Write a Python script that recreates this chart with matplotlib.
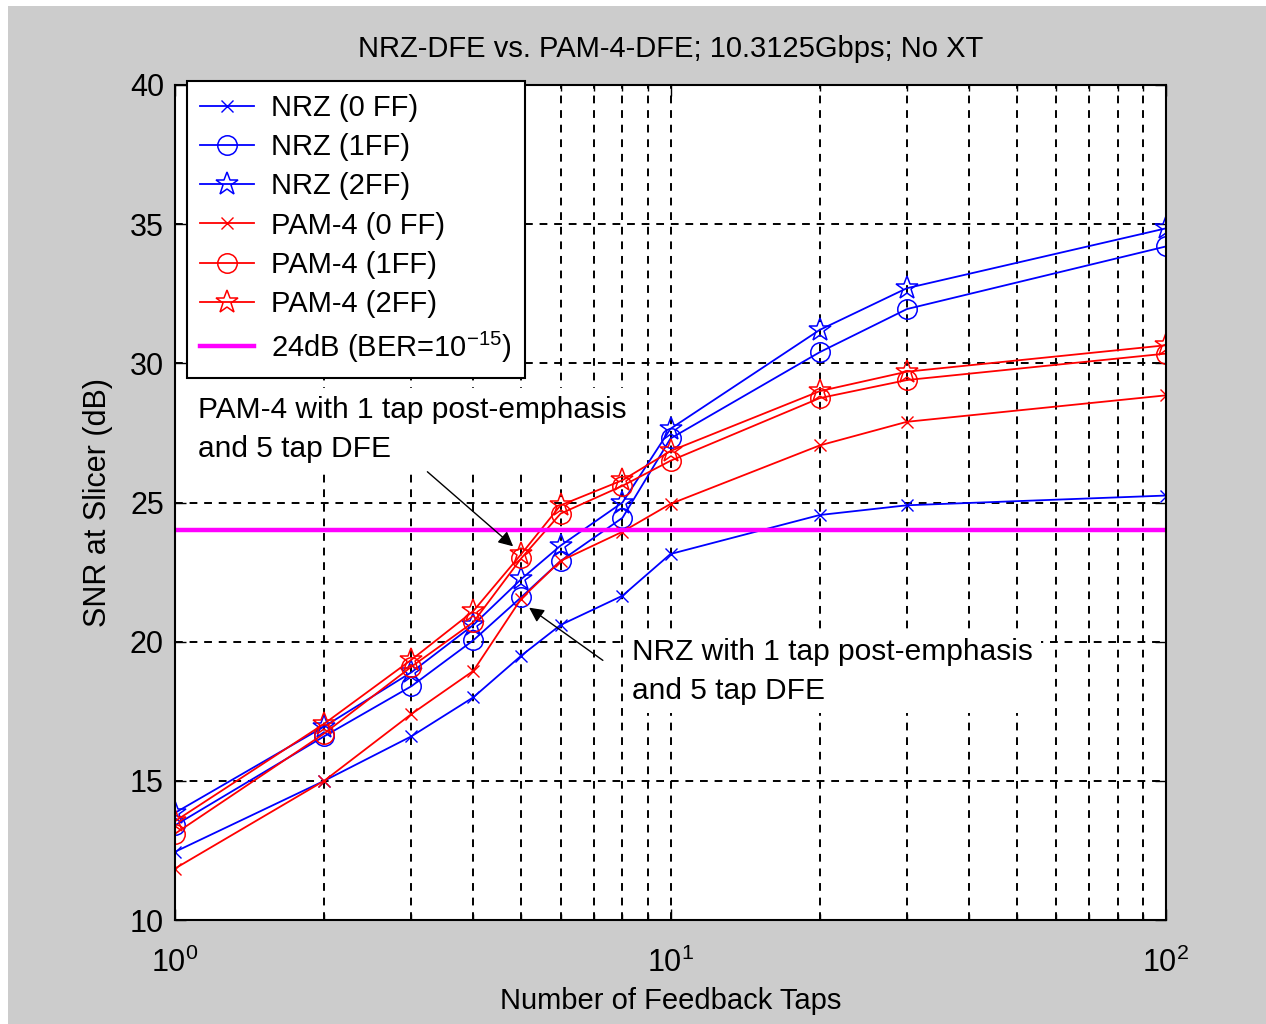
import matplotlib
matplotlib.use("Agg")
import matplotlib.pyplot as plt
from matplotlib.patches import Rectangle
from matplotlib.ticker import LogLocator, NullFormatter

taps = [1, 2, 3, 4, 5, 6, 8, 10, 20, 30, 100]
nrz_0ff = [12.45, 15.0, 16.6, 18.0, 19.5, 20.6, 21.65, 23.15, 24.55, 24.9, 25.25]
nrz_1ff = [13.4, 16.6, 18.4, 20.05, 21.6, 22.9, 24.45, 27.3, 30.4, 31.95, 34.2]
nrz_2ff = [13.85, 16.95, 18.9, 20.6, 22.25, 23.45, 25.0, 27.65, 31.2, 32.7, 34.85]
pam_0ff = [11.85, 15.0, 17.4, 18.95, 21.55, 22.9, 23.95, 24.95, 27.05, 27.9, 28.85]
pam_1ff = [13.1, 16.7, 19.1, 20.7, 23.0, 24.6, 25.6, 26.5, 28.75, 29.4, 30.35]
pam_2ff = [13.55, 17.05, 19.35, 21.1, 23.15, 24.9, 25.8, 26.85, 29.0, 29.7, 30.65]
threshold = 24
x_range = [1, 100]
y_range = [10, 40]
y_ticks = [10, 15, 20, 25, 30, 35, 40]

title = "NRZ-DFE vs. PAM-4-DFE; 10.3125Gbps; No XT"
xlabel = "Number of Feedback Taps"
ylabel = "SNR at Slicer (dB)"
labels = ["NRZ (0 FF)", "NRZ (1FF)", "NRZ (2FF)",
          "PAM-4 (0 FF)", "PAM-4 (1FF)", "PAM-4 (2FF)",
          r"24dB (BER=10$^{\mathregular{-15}}$)"]
note_pam = "PAM-4 with 1 tap post-emphasis\nand 5 tap DFE"
note_nrz = "NRZ with 1 tap post-emphasis\nand 5 tap DFE"

regular = ["Liberation Sans", "DejaVu Sans"]
plt.rcParams["font.family"] = regular
plt.rcParams["mathtext.fontset"] = "custom"
plt.rcParams["mathtext.rm"] = "Liberation Sans"
plt.rcParams["mathtext.default"] = "regular"

W, H = 1266, 1024
fig = plt.figure(figsize=(W / 100, H / 100), dpi=100, facecolor="white")
fig.patches.append(Rectangle((8 / W, 0), 1 - 8 / W, 1 - 6 / H, transform=fig.transFigure,
                             facecolor="#cccccc", edgecolor="none", zorder=-10))

L, R, T, B = 175, 1166, 85, 920
ax = fig.add_axes([L / W, 1 - B / H, (R - L) / W, (B - T) / H])
ax.set_facecolor("white")

lw = 1.3
ax.plot(taps, nrz_0ff, color="blue", marker="x", ms=9, mew=1.0, lw=lw, label=labels[0])
ax.plot(taps, nrz_1ff, color="blue", marker="o", ms=14, mfc="none", mew=1.1, lw=lw, label=labels[1])
ax.plot(taps, nrz_2ff, color="blue", marker="*", ms=17, mfc="none", mew=1.1, lw=lw, label=labels[2])
ax.plot(taps, pam_0ff, color="red", marker="x", ms=9, mew=1.0, lw=lw, label=labels[3])
ax.plot(taps, pam_1ff, color="red", marker="o", ms=14, mfc="none", mew=1.1, lw=lw, label=labels[4])
ax.plot(taps, pam_2ff, color="red", marker="*", ms=17, mfc="none", mew=1.1, lw=lw, label=labels[5])
ax.plot(x_range, [threshold, threshold], color="magenta", lw=3.2, label=labels[6])

ax.set_xscale("log")
ax.set_xlim(x_range)
ax.set_ylim(y_range)
ax.set_yticks(y_ticks)
ax.xaxis.set_major_locator(LogLocator(base=10, numticks=10))
ax.xaxis.set_minor_locator(LogLocator(base=10, subs=range(2, 10), numticks=20))
ax.xaxis.set_minor_formatter(NullFormatter())

ax.grid(True, which="major", axis="both", color="black", linestyle=(0, (4, 3.5)), lw=1.4)
ax.grid(True, which="minor", axis="x", color="black", linestyle=(0, (4, 3.5)), lw=1.4)
ax.set_axisbelow(True)

ax.tick_params(which="both", direction="in", top=True, right=True, color="black")
ax.tick_params(which="major", length=8, width=1.0, labelsize=22)
ax.tick_params(axis="y", which="major", pad=8)
ax.tick_params(axis="x", which="major", pad=20)
ax.tick_params(which="minor", length=4, width=1.0)
for s in ax.spines.values():
    s.set_linewidth(1.5)
    s.set_color("black")

ax.set_title(title, fontsize=21, pad=20)
ax.set_xlabel(xlabel, fontsize=21, labelpad=6)
ax.set_ylabel(ylabel, fontsize=22, labelpad=12)

leg = ax.legend(loc="upper left", bbox_to_anchor=(0.012, 1.005), fontsize=21,
                frameon=True, fancybox=False, framealpha=1, edgecolor="black",
                handlelength=1.85, handletextpad=0.6, labelspacing=0.385,
                borderpad=0.45, borderaxespad=0)
leg.get_frame().set_linewidth(1.5)

box = dict(facecolor="white", edgecolor="none", pad=6)
ax.text(0.023, 0.627, note_pam, transform=ax.transAxes, fontsize=21.5, va="top", ha="left",
        linespacing=1.5, bbox=box, zorder=1.5)
ax.text(0.461, 0.338, note_nrz, transform=ax.transAxes, fontsize=21.5, va="top", ha="left",
        linespacing=1.5, bbox=box, zorder=1.5)

arrow = dict(arrowstyle="-|>", color="black", lw=1.0, mutation_scale=22)
ax.annotate("", xy=(4.86, 23.36), xytext=(3.2, 26.17), arrowprops=arrow)
ax.annotate("", xy=(5.13, 21.28), xytext=(7.38, 19.27), arrowprops=arrow)

fig.savefig("out.png", dpi=100, facecolor=fig.get_facecolor())
